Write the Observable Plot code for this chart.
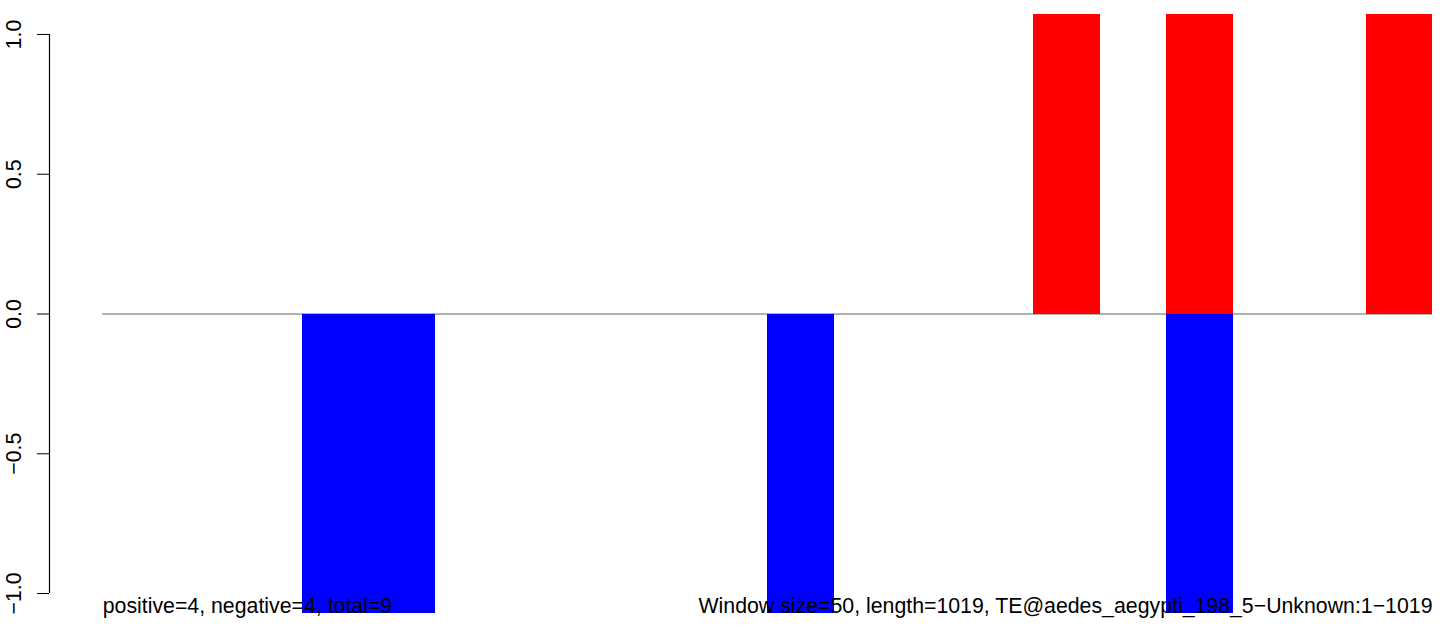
<!DOCTYPE html>
<html>
<head>
<meta charset="utf-8">
<script src="https://cdn.jsdelivr.net/npm/d3@7"></script>
<script src="https://cdn.jsdelivr.net/npm/@observablehq/plot@0.6"></script>
<style>
  html, body { margin: 0; padding: 0; background: #fff; }
  svg { display: block; }
</style>
</head>
<body>
<div id="chart"></div>
<script>
// ---- data ----
const windowSize = 50;
const seqLength = 1019;
const positiveStarts = [700, 800, 950];
const positiveValues = [1.07, 1.07, 1.07];
const negativeStarts = [150, 200, 500, 800];
const negativeValues = [-1.07, -1.07, -1.07, -1.07];
const yTicks = [-1, -0.5, 0, 0.5, 1];
const yTickLabels = ["\u22121.0", "\u22120.5", "0.0", "0.5", "1.0"];
const leftCaption = "positive=4, negative=4, total=9";
const rightCaption = "Window size=50, length=1019, TE@aedes_aegypti_198_5\u2212Unknown:1\u22121019";

// ---- derived tables ----
const nWindows = Math.floor(seqLength / windowSize);
const xEnd = nWindows * windowSize;
const bars = [
  ...positiveStarts.map((s, i) => ({start: s, end: s + windowSize, value: positiveValues[i], sign: "pos"})),
  ...negativeStarts.map((s, i) => ({start: s, end: s + windowSize, value: negativeValues[i], sign: "neg"}))
];
const xPad = xEnd * 0.04;
const font = "'Liberation Sans', Arial, Helvetica, sans-serif";

const chart = Plot.plot({
  width: 1444,
  height: 634,
  marginLeft: 49,
  marginRight: 12,
  marginTop: 11.6,
  marginBottom: 18.6,
  style: {fontFamily: font, background: "#fff", color: "#000"},
  x: {domain: [-xPad, xEnd], axis: null},
  y: {domain: [-1.08, 1.08]},
  marks: [
    Plot.ruleY([0], {x1: 0, x2: xEnd, stroke: "#999", strokeWidth: 1.3}),
    Plot.rect(bars, {
      x1: "start", x2: "end", y1: 0, y2: "value",
      fill: d => d.sign === "pos" ? "#ff0000" : "#0000ff",
      shapeRendering: "crispEdges"
    }),
    Plot.ruleX([-xPad], {y1: yTicks[0], y2: yTicks[yTicks.length - 1], stroke: "#000", strokeWidth: 1.2}),
    Plot.axisY(yTicks, {
      tickSize: 12,
      tickPadding: 17,
      tickRotate: -90,
      fontSize: 21.3,
      stroke: "#000",
      fill: "#000",
      tickFormat: d => yTickLabels[yTicks.indexOf(d)],
      label: null
    }),
    Plot.text([leftCaption], {
      x: () => 0, y: () => yTicks[0], text: d => d,
      textAnchor: "start",
      lineAnchor: "bottom",
      dy: 19,
      fontSize: 21.3,
      fill: "#000"
    }),
    Plot.text([rightCaption], {
      x: () => xEnd, y: () => yTicks[0], text: d => d,
      textAnchor: "end",
      lineAnchor: "bottom",
      dy: 19,
      fontSize: 21.3,
      fill: "#000"
    })
  ]
});
document.getElementById("chart").appendChild(chart);
</script>
</body>
</html>
